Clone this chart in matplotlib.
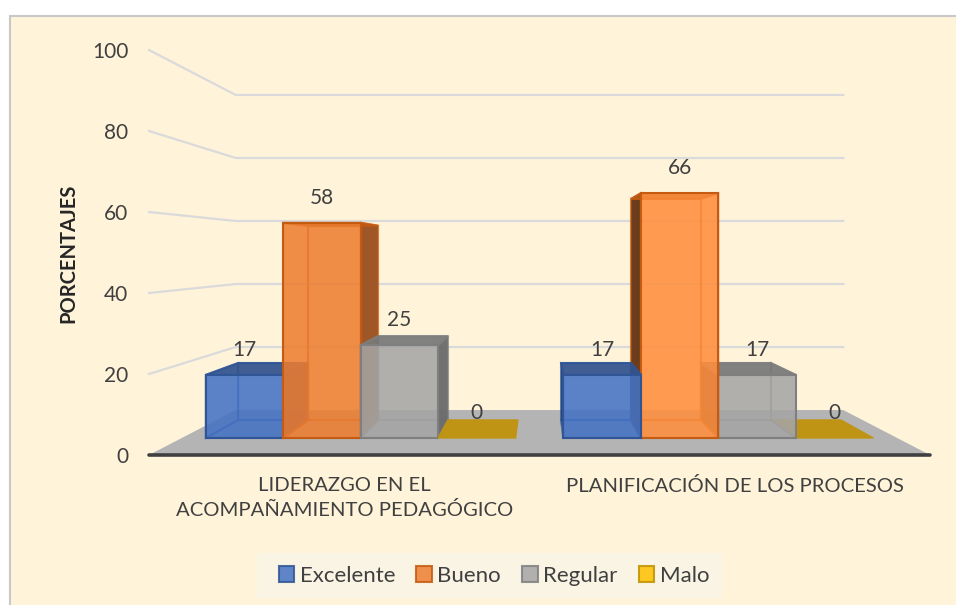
import matplotlib
matplotlib.use("Agg")
from matplotlib import pyplot as plt
from matplotlib.patches import Patch, Polygon, Rectangle
from matplotlib.colors import to_rgb

categories = ["LIDERAZGO EN EL\nACOMPAÑAMIENTO PEDAGÓGICO", "PLANIFICACIÓN DE LOS PROCESOS"]
series = ["Excelente", "Bueno", "Regular", "Malo"]
excelente = [17, 17]
bueno = [58, 66]
regular = [25, 17]
malo = [0, 0]
yticks = [0, 20, 40, 60, 80, 100]

values = [excelente, bueno, regular, malo]
fills = ["#4472C4", "#ED7D31", "#A5A5A5", "#FFC000"]
edges = ["#2F5597", "#C55A11", "#7F7F7F", "#BF9000"]

W, H = 956, 605
text_c = "#404040"
plt.rcParams['font.family'] = ['Lato', 'DejaVu Sans']
font = 15

# perspective: 1 is the front plane, scale shrinks towards the back wall
s_wall = 0.778
s_front = 0.916
s_back = 0.827
vx, vy = 0.5, 50
bar_w = 0.2166


def proj(x, v, s):
    return (vx + (x - vx) * s, vy + (v - vy) * s)


def darker(c, f):
    r, g, b = to_rgb(c)
    return (r * f, g * f, b * f)


fig = plt.figure(figsize=(W / 100, H / 100), dpi=100, facecolor="white")
fig.add_artist(Rectangle((9.5 / W, -0.01), 1, 1.01 - 15.5 / H, transform=fig.transFigure,
                         facecolor="#FFF4DA", edgecolor="#C8C8C8", linewidth=1.5, zorder=-1))
fig.add_artist(Rectangle((257 / W, 1 - 598 / H), 465 / W, 45 / H, transform=fig.transFigure,
                         facecolor="#FAF4E4", edgecolor="none", zorder=-0.5))

ax = fig.add_axes([149 / W, 1 - 455 / H, 781 / W, 405 / H])
ax.patch.set_alpha(0)
ax.set_xlim(-0.5, 1.5)
ax.set_ylim(0, 100)
for sp in ax.spines.values():
    sp.set_visible(False)

# gridlines on the side wall and back wall
for t in yticks[1:]:
    p0 = proj(-0.5, t, 1)
    p1 = proj(-0.5, t, s_wall)
    p2 = proj(1.5, t, s_wall)
    ax.plot([p0[0], p1[0], p2[0]], [p0[1], p1[1], p2[1]], color="#DADADA", lw=1.6,
            zorder=1, clip_on=False)

# floor
floor = [proj(-0.5, 0, 1), proj(1.5, 0, 1), proj(1.5, 0, s_wall), proj(-0.5, 0, s_wall)]
ax.add_patch(Polygon(floor, closed=True, facecolor="#B4B4B4", edgecolor="none", zorder=2))
ax.plot([-0.5, 1.5], [0, 0], color=text_c, lw=2.6, zorder=3, clip_on=False, solid_capstyle="round")


def draw_bar(x0, v, fill, edge, z, cat):
    x1 = x0 + bar_w
    fb = [proj(x0, 0, s_front), proj(x1, 0, s_front)]
    ft = [proj(x0, v, s_front), proj(x1, v, s_front)]
    bb = [proj(x0, 0, s_back), proj(x1, 0, s_back)]
    bt = [proj(x0, v, s_back), proj(x1, v, s_back)]
    if v == 0:
        ax.add_patch(Polygon([fb[0], fb[1], bb[1], bb[0]], closed=True, facecolor="#BF9414",
                             edgecolor="#BF9414", lw=1, zorder=z))
        return
    front_c = fill
    if cat == 1 and fill == "#ED7D31":
        front_c = "#FF8E3C"
    shade = 0.65 if cat == 0 else 0.42
    side = darker(fill, shade)
    # the side facing away from the viewer stays faint, seen through the front
    left_c, left_a = (side, 0.95) if x0 > vx else (front_c, 0.3)
    right_c, right_a = (side, 0.95) if x1 < vx else (front_c, 0.3)
    faces = [
        ([bb[0], bb[1], bt[1], bt[0]], front_c, 0.3, 0.5),
        ([fb[0], fb[1], bb[1], bb[0]], front_c, 0.3, 0.5),
        ([fb[0], ft[0], bt[0], bb[0]], left_c, left_a, 0.5),
        ([fb[1], ft[1], bt[1], bb[1]], right_c, right_a, 0.5),
        ([ft[0], ft[1], bt[1], bt[0]], darker(fill, 0.72), 0.9, 0.9),
        ([fb[0], fb[1], ft[1], ft[0]], front_c, 0.82, 1),
    ]
    for i, (pts, c, a, ea) in enumerate(faces):
        ax.add_patch(Polygon(pts, closed=True, facecolor=(*to_rgb(c), a),
                             edgecolor=(*to_rgb(edge), ea), lw=1.5,
                             zorder=z + i * 0.01))


# bars are stacked from the outside towards the middle of the chart
for c in range(len(categories)):
    left = c - 2 * bar_w
    order = range(len(series)) if c == 0 else reversed(range(len(series)))
    for n, i in enumerate(order):
        x0 = left + i * bar_w
        v = values[i][c]
        draw_bar(x0, v, fills[i], edges[i], 4 + n, c)
        ax.annotate(str(v), proj(x0 + bar_w / 2, v, s_front), xytext=(0, 25),
                    textcoords="offset pixels", ha="center", va="center",
                    fontsize=font, color=text_c, zorder=12)

ax.set_xticks([0, 1])
ax.set_xticklabels(categories, fontsize=14.6, color=text_c, linespacing=1.45)
ax.set_yticks(yticks)
ax.set_yticklabels([str(t) for t in yticks], fontsize=font, color=text_c)
ax.tick_params(axis="both", length=0)
ax.tick_params(axis="x", pad=16)
ax.tick_params(axis="y", pad=15)
ax.set_ylabel("PORCENTAJES", fontsize=14.5, fontweight="bold", color="#262626")
ax.yaxis.set_label_coords((78 - 149) / 781, (455 - 253) / 405)

handles = [Patch(facecolor=f, edgecolor=e, alpha=0.85, lw=1.5) for f, e in zip(fills, edges)]
leg = fig.legend(handles, series, ncol=4, loc="center", bbox_to_anchor=(494 / W, 1 - 575.5 / H),
                 fontsize=16, frameon=False, handlelength=0.7, handleheight=0.7, handletextpad=0.25,
                 columnspacing=0.95, borderpad=0.6, labelcolor=text_c)

fig.savefig("out.png", dpi=100, facecolor="white")
